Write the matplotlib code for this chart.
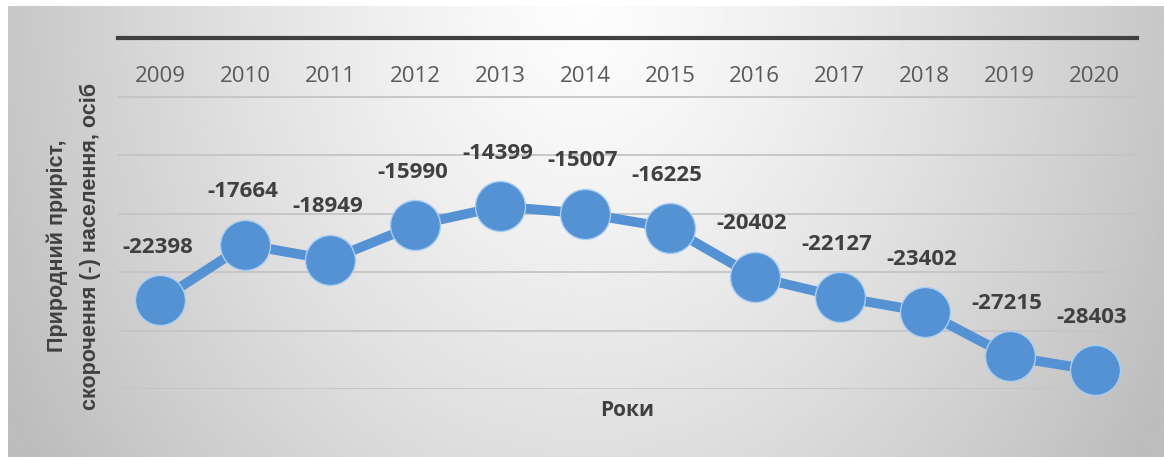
import numpy as np
import matplotlib.pyplot as plt

# Дані: природний приріст (скорочення) населення
years = ['2009', '2010', '2011', '2012', '2013', '2014',
         '2015', '2016', '2017', '2018', '2019', '2020']
values = [-22398, -17664, -18949, -15990, -14399, -15007,
          -16225, -20402, -22127, -23402, -27215, -28403]

plt.rcParams['font.family'] = ['Open Sans', 'DejaVu Sans']

W, H = 1164, 457
fig = plt.figure(figsize=(W / 100, H / 100), dpi=100)
fig.patch.set_facecolor('white')

# сірий градієнтний фон (світлий зверху по центру)
bg = fig.add_axes([8 / W, 0, 1 - 8 / W, 1 - 6 / H], zorder=-10)
gx, gy = np.meshgrid(np.linspace(-1, 1, 400), np.linspace(0, 1, 160))
r = np.sqrt(gx ** 2 + 0.4 * gy ** 2)
shade = np.clip(0.99 - 0.21 * r ** 1.3, 0.74, 1)
bg.imshow(shade, cmap='gray', vmin=0, vmax=1, aspect='auto',
          extent=[0, 1, 0, 1], interpolation='bilinear')
bg.axis('off')

ax = fig.add_axes([118 / W, 1 - 389 / H, (1137 - 118) / W, (389 - 38) / H])
ax.patch.set_alpha(0)
x = np.arange(len(years))
ax.plot(x, values, color='#5592d4', lw=7, zorder=3, clip_on=False)
ax.plot(x, values, 'o', ms=36, color='#5592d4', mec='#a9cdf0', mew=1,
        zorder=4, clip_on=False)

for xi, v in zip(x, values):
    ax.annotate(str(v), (xi, v), xytext=(-2, 38), textcoords='offset points',
                ha='center', va='center', fontsize=16, fontweight='bold',
                color='#404040')

ax.set_xlim(-0.5, len(years) - 0.5)
ax.set_ylim(-30000, 0)
ax.set_yticks(np.arange(-30000, 1, 5000))
ax.set_yticklabels([])
ax.tick_params(axis='y', length=0)
ax.grid(axis='y', color='#c4c4c4', lw=1.3)
ax.set_axisbelow(True)

# підписи років під верхньою віссю
ax.xaxis.tick_top()
ax.set_xticks(x)
ax.set_xticklabels(years, fontsize=16, color='#595959')
ax.tick_params(axis='x', length=0, pad=-35)

for s in ['left', 'right', 'bottom']:
    ax.spines[s].set_visible(False)
ax.spines['top'].set_color('#404040')
ax.spines['top'].set_linewidth(3)
ax.spines['top'].set_zorder(5)

ax.set_xlabel('Роки', fontsize=15, fontweight='bold', color='#404040', labelpad=8)
ax.xaxis.set_label_position('bottom')

fig.text(74 / W, 1 - 246 / H, 'Природний приріст,\nскорочення (-) населення, осіб',
         rotation=90, ha='center', va='center', multialignment='center',
         fontsize=15.5, fontweight='bold', color='#404040', linespacing=1.7,
         family=['Liberation Sans', 'DejaVu Sans'])

fig.savefig('out.png', dpi=100)
